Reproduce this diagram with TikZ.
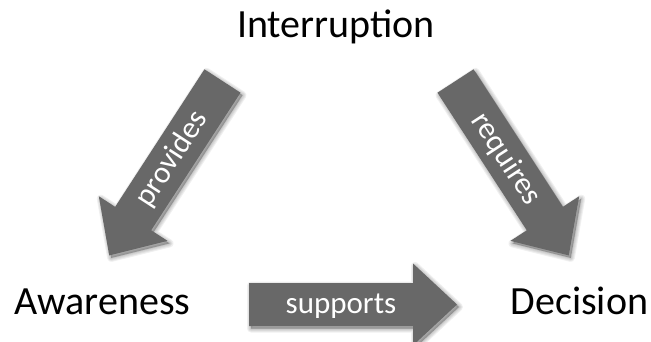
\documentclass[tikz,border=0pt]{standalone}
\usepackage{fontspec}
\setmainfont{Carlito}
\definecolor{arrowgray}{RGB}{104,104,104}
\tikzset{
  word/.style={font=\fontsize{40}{48}\selectfont, text=black, anchor=base, inner sep=0pt},
  arrowtext/.style={font=\fontsize{31}{37}\selectfont, text=white, anchor=base, inner sep=0pt},
  arrowfill/.style={fill=arrowgray},
  shadelayer/.style={fill=black, draw=black, opacity=0.06, line join=round},
}
% block arrow outline in its own frame: tail at the origin, tip at (208,0)
\newcommand{\arrowpath}[1]{%
  \path[#1] (0,21.5) -- (164,21.5) -- (164,41) -- (208,0) -- (164,-41)
    -- (164,-21.5) -- (0,-21.5) -- cycle;}
% soft drop shadow built from stacked translucent outlines
\newcommand{\softshadow}[2]{%
  \begin{scope}[shift={#1}, rotate=#2]
    \foreach \w in {8,6,4,2,0.1} {\arrowpath{shadelayer, line width=\w pt}}
  \end{scope}}
\begin{document}
\begin{tikzpicture}[x=1pt, y=1pt]
  \useasboundingbox (0,0) rectangle (651,341);

  % words at the three corners
  \node[word] (interruption) at (336,303) {Interruption};
  \node[word] (awareness) at (102.5,27) {Awareness};
  \node[word] (decision) at (579.5,27) {Decision};

  % arrow shadows
  \softshadow{(224.5,257.5)}{237}
  \softshadow{(457.5,257.5)}{-57}
  \softshadow{(251,34)}{0}

  % Interruption -> Awareness
  \begin{scope}[shift={(222.5,260)}, rotate=237]
    \arrowpath{arrowfill}
    \node[arrowtext, rotate=57] (provides) at (93,8.5) {provides};
  \end{scope}

  % Interruption -> Decision
  \begin{scope}[shift={(455.5,260)}, rotate=-57]
    \arrowpath{arrowfill}
    \node[arrowtext, rotate=-57] (requires) at (93,-8.5) {requires};
  \end{scope}

  % Awareness -> Decision
  \begin{scope}[shift={(249,36.5)}]
    \arrowpath{arrowfill}
    \node[arrowtext] (supports) at (92,-8.5) {supports};
  \end{scope}
\end{tikzpicture}
\end{document}
